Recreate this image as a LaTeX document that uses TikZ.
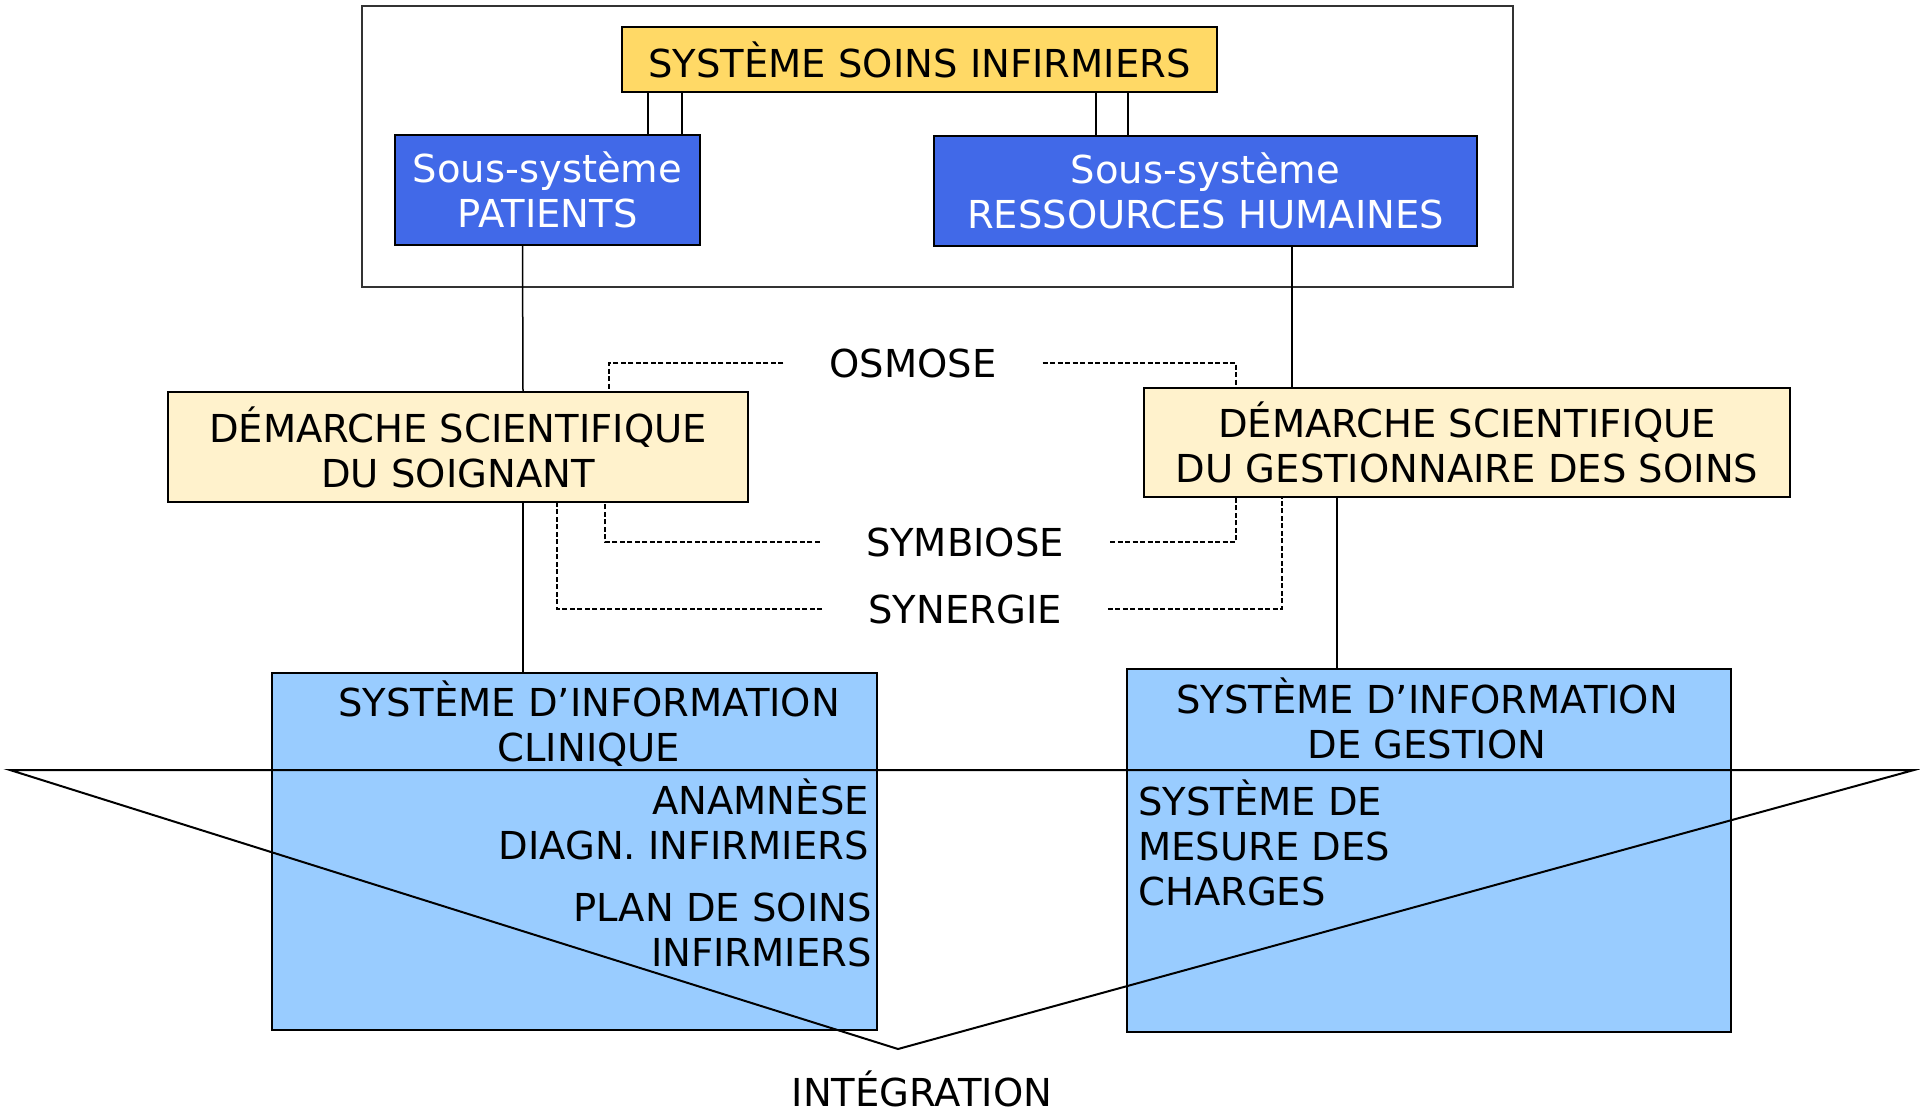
\documentclass[tikz,border=0pt]{standalone}
\usepackage{fontspec}
\setmainfont{DejaVu Sans}
\definecolor{soinsyellow}{HTML}{FFD966}
\definecolor{soinsblue}{HTML}{4169E8}
\definecolor{paleyellow}{HTML}{FFF2CC}
\definecolor{paleblue}{HTML}{99CCFF}
\tikzset{every node/.style={inner sep=0pt,align=center,font=\fontsize{38.5}{45}\selectfont},
  box/.style={draw=black,line width=2pt},
  link/.style={line width=1.5pt},
  dlink/.style={line width=1.5pt,dash pattern=on 5pt off 2.5pt},
  label/.style={inner xsep=46pt}}

\begin{document}
\begin{tikzpicture}[x=1pt,y=-1pt]
  \useasboundingbox (0,0) rectangle (1920,1112);
  \draw[line width=2pt,black!80] (362,6) rectangle (1513,287);
      \node[box,fill=soinsyellow,minimum width=595pt,minimum height=65pt] (top) at (919.5,59.5) {SYSTÈME SOINS INFIRMIERS};
      \node[box,fill=soinsblue,text=white,minimum width=305pt,minimum height=110pt] (pat) at (547.5,190) {Sous-système\\PATIENTS};
      \node[box,fill=soinsblue,text=white,minimum width=543pt,minimum height=110pt] (rh) at (1205.5,191) {Sous-système\\RESSOURCES HUMAINES};
      \node[box,fill=paleyellow,minimum width=580pt,minimum height=110pt] (dsl) at (458,447) {DÉMARCHE SCIENTIFIQUE\\DU SOIGNANT};
      \node[box,fill=paleyellow,minimum width=646pt,minimum height=109pt] (dsr) at (1467,442.5) {DÉMARCHE SCIENTIFIQUE\\DU GESTIONNAIRE DES SOINS};
      \node[box,fill=paleblue,minimum width=605pt,minimum height=357pt] (sic) at (574.5,851.5) {};
      \node[box,fill=paleblue,minimum width=604pt,minimum height=363pt] (sig) at (1429,850.5) {};
      \node (sict) at (589,724) {SYSTÈME D’INFORMATION\\CLINIQUE};
      \node[anchor=east,align=right] (anam) at (869,819) {ANAMNÈSE\\DIAGN. INFIRMIERS};
      \node[anchor=east,align=right] (plan) at (872,930) {PLAN DE SOINS\\INFIRMIERS};
      \node (sigt) at (1427,718) {SYSTÈME D’INFORMATION\\DE GESTION};
      \node[anchor=west,align=left] (mes) at (1138,843) {SYSTÈME DE\\MESURE DES\\CHARGES};
      \node[label] (osm) at (913,363) {OSMOSE};
      \node[label] (sym) at (965,542) {SYMBIOSE};
      \node[label] (syn) at (965,609) {SYNERGIE};
      \node[anchor=base] (integ) at (922,1106) {INTÉGRATION};
      \coordinate (tl) at (10,770);
      \coordinate (tr) at (1914,770);
      \coordinate (apex) at (898,1049);

\foreach \x in {648,682}
  \draw[line width=2.5pt] (top.south -| \x,0) -- (pat.north -| \x,0);
\foreach \x in {1096,1128}
  \draw[line width=2.5pt] (top.south -| \x,0) -- (rh.north -| \x,0);
\draw[link] ([xshift=-25pt]pat.south) -- ([xshift=65pt]dsl.north);
\draw[link] ([xshift=86.5pt]rh.south) -- ([xshift=86.5pt]rh.south |- dsr.north);
\draw[link] ([xshift=65pt]dsl.south) -- ([xshift=65pt]dsl.south |- sic.north);
\draw[link] ([xshift=-130pt]dsr.south) -- ([xshift=-130pt]dsr.south |- sig.north);
\draw[dlink] (osm.west) -| ([xshift=151pt]dsl.north);
\draw[dlink] (osm.east) -| ([xshift=-231pt]dsr.north);
\draw[dlink] (sym.west) -| ([xshift=147pt]dsl.south);
\draw[dlink] (sym.east) -| ([xshift=-231pt]dsr.south);
\draw[dlink] (syn.west) -| ([xshift=99pt]dsl.south);
\draw[dlink] (syn.east) -| ([xshift=-185pt]dsr.south);
\draw[line width=2pt,line join=miter] (tl) -- (tr) -- (apex) -- cycle;
    \end{tikzpicture}
\end{document}
